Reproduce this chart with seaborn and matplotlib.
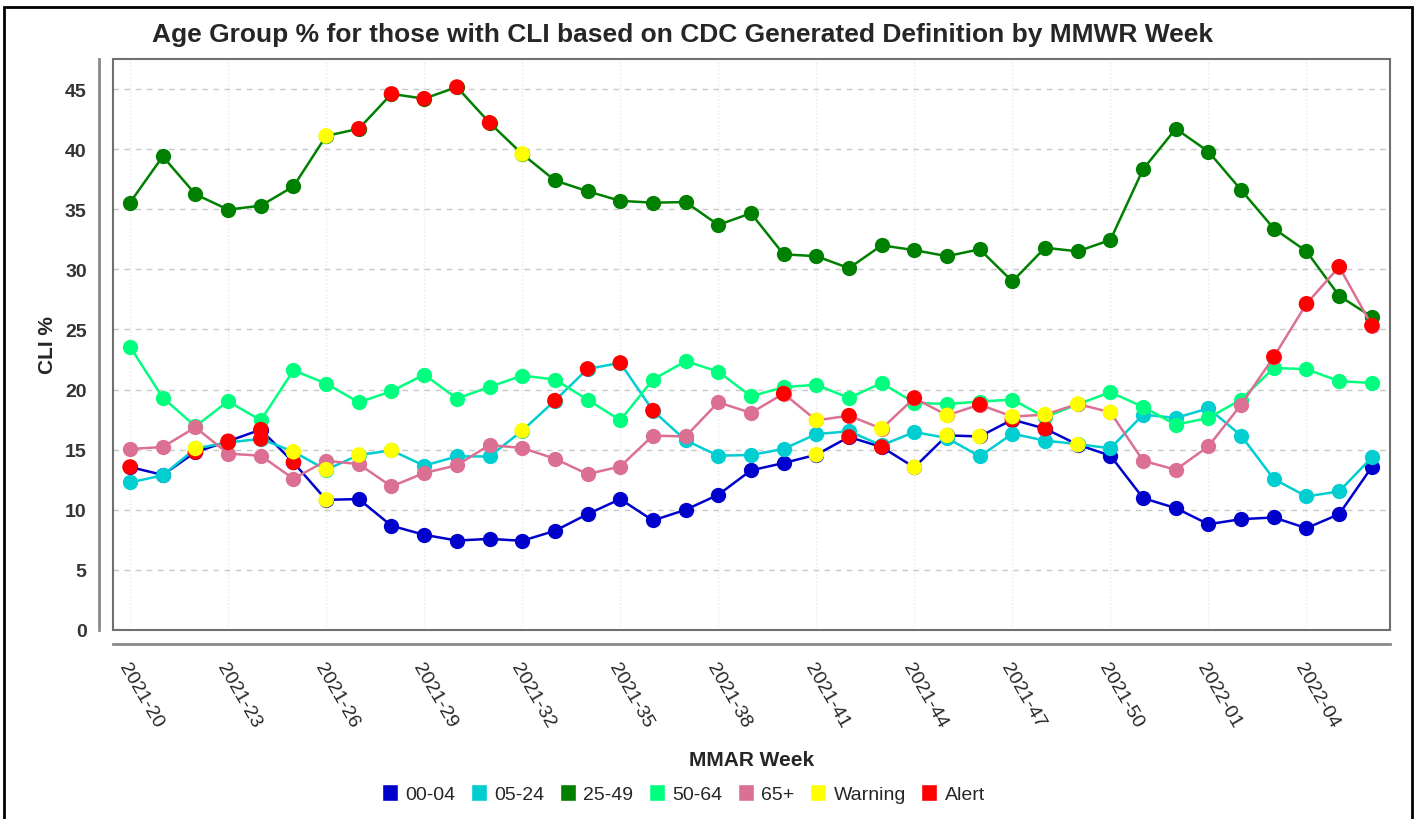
import numpy as np
import pandas as pd
import matplotlib
matplotlib.use("Agg")
import matplotlib.pyplot as plt
import seaborn as sns
from matplotlib.patches import Patch, Rectangle

# MMWR weeks 2021-20 .. 2022-06
weeks = [f"2021-{w}" for w in range(20, 53)] + [f"2022-{w:02d}" for w in range(1, 7)]

age_00_04 = [13.56, 12.9, 14.8, 15.7, 16.67, 13.94, 10.83, 10.89, 8.67, 7.92, 7.44, 7.58, 7.42,
             8.25, 9.64, 10.89, 9.11, 10.0, 11.25, 13.28, 13.89, 14.58, 16.06, 15.22, 13.53, 16.19,
             16.1, 17.5, 16.75, 15.42, 14.5, 10.97, 10.14, 8.8, 9.22, 9.36, 8.47, 9.64, 13.56]
age_05_24 = [12.28, 12.86, 15.1, 15.6, 15.9, 14.83, 13.33, 14.56, 14.94, 13.67, 14.44, 14.44, 16.58,
             19.08, 21.72, 22.22, 18.25, 15.78, 14.5, 14.56, 15.06, 16.3, 16.53, 15.36, 16.47, 15.97,
             14.44, 16.33, 15.75, 15.47, 15.11, 17.92, 17.64, 18.44, 16.17, 12.56, 11.11, 11.53, 14.36]
age_25_49 = [35.56, 39.4, 36.25, 34.97, 35.3, 36.9, 41.1, 41.7, 44.6, 44.2, 45.17, 42.2, 39.6,
             37.4, 36.5, 35.7, 35.55, 35.6, 33.7, 34.67, 31.25, 31.1, 30.1, 32.0, 31.6, 31.1,
             31.67, 29.0, 31.8, 31.5, 32.45, 38.33, 41.7, 39.8, 36.6, 33.4, 31.5, 27.8, 26.05]
age_50_64 = [23.56, 19.33, 16.94, 19.03, 17.44, 21.6, 20.5, 18.94, 19.86, 21.25, 19.25, 20.22, 21.17,
             20.83, 19.17, 17.44, 20.83, 22.36, 21.5, 19.44, 20.2, 20.4, 19.3, 20.55, 18.9, 18.8,
             19.0, 19.17, 17.7, 18.78, 19.78, 18.56, 17.08, 17.64, 19.17, 21.8, 21.7, 20.7, 20.55]
age_65 = [15.06, 15.22, 16.86, 14.67, 14.5, 12.58, 14.08, 13.8, 11.94, 13.06, 13.7, 15.39, 15.14,
          14.25, 12.97, 13.6, 16.17, 16.1, 18.94, 18.06, 19.67, 17.44, 17.83, 16.75, 19.3, 17.86,
          18.75, 17.75, 17.92, 18.8, 18.11, 14.08, 13.33, 15.28, 18.75, 22.72, 27.14, 30.22, 25.33]

# week indexes flagged as Warning / Alert
warn_00_04 = [6, 21, 24, 25, 26, 29]
alert_00_04 = [0, 2, 3, 4, 5, 22, 23, 27, 28]
warn_05_24 = [2, 5, 6, 7, 8, 12]
alert_05_24 = [3, 4, 13, 14, 15, 16]
warn_25_49 = [6, 12]
alert_25_49 = [7, 8, 9, 10, 11]
warn_65 = [21, 23, 25, 27, 28, 29, 30]
alert_65 = [20, 22, 24, 26, 35, 36, 37, 38]

groups = ["00-04", "05-24", "25-49", "50-64", "65+"]
colors = {"00-04": "#0000CD", "05-24": "#00CED1", "25-49": "#008000",
          "50-64": "#00FF7F", "65+": "#DB7093"}
status_colors = {"Warning": "#FFFF00", "Alert": "#FF0000"}

series = {"00-04": age_00_04, "05-24": age_05_24, "25-49": age_25_49,
          "50-64": age_50_64, "65+": age_65}
flags = {"00-04": (warn_00_04, alert_00_04), "05-24": (warn_05_24, alert_05_24),
         "25-49": (warn_25_49, alert_25_49), "50-64": ([], []), "65+": (warn_65, alert_65)}

rows = []
st_rows = []
for g in groups:
    w_idx, a_idx = flags[g]
    for i, v in enumerate(series[g]):
        rows.append({"idx": i, "value": v, "group": g})
        if i in w_idx:
            st_rows.append({"idx": i, "value": v, "status": "Warning"})
        elif i in a_idx:
            st_rows.append({"idx": i, "value": v, "status": "Alert"})
df = pd.DataFrame(rows)
df_st = pd.DataFrame(st_rows)

sns.set_style("white")
plt.rcParams["font.family"] = ["Liberation Sans", "DejaVu Sans"]

fig = plt.figure(figsize=(14.24, 8.2), dpi=100)
ax = fig.add_axes([0.0794, 0.2305, 0.8966, 0.6963])

sns.lineplot(data=df, x="idx", y="value", hue="group", hue_order=groups, palette=colors,
             marker="o", markersize=11, markeredgewidth=0, linewidth=1.8, legend=False, ax=ax)
sns.scatterplot(data=df_st, x="idx", y="value", hue="status", palette=status_colors,
                s=125, edgecolor="none", legend=False, zorder=5, ax=ax)

# offset axis lines first (this resets the ticks)
for s in ["top", "right"]:
    ax.spines[s].set_visible(False)
for s in ["left", "bottom"]:
    ax.spines[s].set_position(("outward", 10))
    ax.spines[s].set_color("#8a8a8a")
    ax.spines[s].set_linewidth(2)
ax.add_patch(Rectangle((0, 0), 1, 1, transform=ax.transAxes, fill=False,
                       edgecolor="#707070", linewidth=1.5, clip_on=False, zorder=6))

ax.set_xlim(-0.52, 38.55)
ax.set_ylim(0, 47.5)
ticks = list(range(0, len(weeks), 3))
ax.set_xticks(ticks)
ax.set_yticks(range(0, 50, 5))
ax.tick_params(axis="both", direction="out", length=5, width=1.5, color="#8a8a8a")
ax.tick_params(axis="y", pad=4)
ax.tick_params(axis="x", pad=6)
ax.set_yticklabels([str(t) for t in range(0, 50, 5)], fontsize=14, fontweight="bold", color="#333333")
ax.set_xticklabels([weeks[t] for t in ticks], rotation=-60, ha="left", va="top",
                   rotation_mode="anchor", fontsize=14)
ax.set_xlabel("")
ax.set_ylabel("CLI %", fontsize=15, fontweight="bold", labelpad=6)

ax.yaxis.grid(True, linestyle=(0, (4, 4)), color="#c8c8c8", linewidth=1)
ax.xaxis.grid(True, linestyle=":", color="#e8e8e8", linewidth=1)

fig.text(0.479, 0.957, "Age Group % for those with CLI based on CDC Generated Definition by MMWR Week",
         ha="center", va="center", fontsize=19, fontweight="bold")
fig.text(0.528, 0.073, "MMAR Week", ha="center", va="center", fontsize=15, fontweight="bold")

handles = [Patch(facecolor=colors[g], label=g) for g in groups]
handles += [Patch(facecolor=status_colors[k], label=k) for k in ["Warning", "Alert"]]
fig.legend(handles=handles, ncol=7, loc="center", bbox_to_anchor=(0.48, 0.031), frameon=False,
           fontsize=14, handlelength=0.8, handleheight=1.0, handletextpad=0.4, columnspacing=0.8)

fig.patches.append(Rectangle((4 / 1424, -0.05), 1408 / 1424, 1 - 8 / 820 + 0.05,
                             transform=fig.transFigure, fill=False, edgecolor="black", linewidth=2))

fig.savefig("out.png", dpi=100)
